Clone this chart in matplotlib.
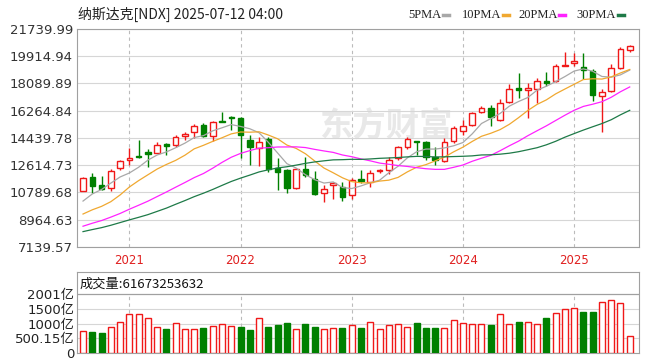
import matplotlib.pyplot as plt
from matplotlib.lines import Line2D
import numpy as np
import pandas as pd

plt.rcParams['font.family'] = ['Noto Sans CJK SC', 'DejaVu Sans']

# monthly candles 2020-08 .. 2025-07
opens = [10911, 11808, 11293, 11072, 12411, 12967, 13235, 13503, 13456, 14059,
         13971, 14594, 14862, 15311, 14594, 15590, 15847, 15760, 14306, 13751,
         14353, 12411, 12297, 11072, 12344, 11675, 10777, 11273, 11179, 10623,
         11674, 11514, 12210, 12297, 13081, 13817, 14259, 14152, 13188, 12920,
         14259, 14929, 15311, 16202, 16429, 15646, 16871, 17769, 17655, 17702,
         18237, 18278, 19282, 19443, 19175, 18947, 17273, 17608, 19108, 20354]
highs = [11830, 12116, 11895, 12344, 12967, 13751, 14306, 13683, 14193, 14085,
         14641, 14822, 15358, 15425, 15579, 16202, 15934, 15867, 14641, 14527,
         14527, 13081, 12344, 12411, 13188, 12250, 11293, 11514, 11514, 11741,
         12297, 12297, 12384, 13148, 13905, 14487, 14259, 14259, 13858, 14420,
         15244, 15646, 16202, 16583, 16650, 17032, 18057, 18773, 18104, 18438,
         18840, 19396, 20220, 20133, 20133, 19061, 17722, 19396, 20514, 20668]
lows = [10860, 10737, 10958, 10911, 12297, 12632, 13081, 12518, 13416, 13302,
        13858, 14306, 14460, 14527, 14260, 15520, 14976, 13081, 12632, 12585,
        12183, 10958, 10737, 11005, 11849, 10623, 10174, 10335, 10241, 10335,
        11407, 11179, 12076, 12029, 12967, 13684, 13302, 12967, 12632, 12853,
        14085, 14641, 15244, 16135, 15244, 15599, 16804, 17099, 15760, 16764,
        17943, 18170, 19282, 19282, 18391, 16938, 14822, 17541, 19061, 20220]
closes = [11782, 11226, 11005, 12230, 12900, 13121, 13148, 13389, 13951, 13925,
          14527, 14688, 15264, 14594, 15532, 15540, 15760, 14641, 13818, 14192,
          12344, 12183, 11072, 12344, 11962, 10690, 11045, 11447, 10469, 11628,
          11561, 12116, 12277, 12967, 13817, 14373, 14152, 13188, 12967, 14193,
          15090, 15244, 16094, 16429, 15827, 16804, 17702, 17655, 17769, 18278,
          18124, 19242, 19349, 19617, 19014, 17320, 17501, 19108, 20401, 20622]
# closes before the first candle (2018-03 .. 2020-07), only feed the averages
pre_closes = [7100, 7150, 7450, 7500, 7700, 8000, 8000, 7400, 7350, 6800,
              7250, 7400, 7650, 8000, 7400, 7850, 7950, 7750, 7800, 8100, 8400, 8700,
              9100, 8400, 7800, 8850, 9500, 10100, 10850]

# volume in 亿, 1 = red bar
volumes = [746, 723, 690, 871, 1063, 1323, 1323, 1199, 871, 825,
           1018, 825, 825, 859, 905, 984, 916, 871, 769, 1199,
           871, 950, 1029, 825, 984, 871, 825, 859, 859, 939,
           859, 1063, 803, 939, 973, 893, 1029, 859, 859, 859,
           1108, 1018, 973, 973, 950, 1312, 973, 1063, 1063, 973,
           1199, 1346, 1481, 1515, 1402, 1402, 1741, 1787, 1685, 588]
vol_red = [1, 0, 0, 1, 1, 1, 1, 1, 1, 0,
           1, 1, 1, 0, 1, 1, 1, 0, 0, 1,
           0, 0, 0, 1, 0, 0, 1, 1, 0, 1,
           0, 1, 1, 1, 1, 1, 0, 0, 0, 1,
           1, 1, 1, 1, 0, 1, 1, 0, 1, 1,
           0, 1, 1, 1, 0, 0, 1, 1, 1, 1]

price_ticks = [7139.57, 8964.63, 10789.68, 12614.73, 14439.78,
               16264.84, 18089.89, 19914.94, 21739.99]
vol_ticks = [0, 500.15, 1000, 1500, 2001]
vol_labels = ['0', '500.15亿', '1000亿', '1500亿', '2001亿']
ma_names = ['5PMA', '10PMA', '20PMA', '30PMA']
ma_lens = [5, 10, 20, 30]

months = pd.period_range('2020-08', '2025-07', freq='M')
x = np.arange(len(months))
o, h, l, c = map(np.array, (opens, highs, lows, closes))
up = c >= o
vr = np.array(vol_red, dtype=bool)
vol = np.array(volumes)
year_pos = x[months.month == 1]
year_lab = [str(y) for y in months.year[months.month == 1]]

red, green = '#f01818', '#008000'
ma_cols = ['#a8a8a8', '#f0a830', '#ff22ff', '#1e7a48']
W, H = 649, 361

fig = plt.figure(figsize=(6.49, 3.61), dpi=100)
ax = fig.add_axes([77 / W, 1 - 247 / H, 562 / W, 218 / H])
axv = fig.add_axes([77 / W, 1 - 353 / H, 562 / W, 81 / H])

# watermark
ax.text(0.55, 0.55, '东方财富', transform=ax.transAxes, fontsize=24, weight='bold',
        color='#e8e8e8', ha='center', va='center', zorder=0)

# moving averages
s = pd.Series(pre_closes + closes, dtype=float)
for n, col in zip(ma_lens, ma_cols):
    ma = s.rolling(n).mean().to_numpy()[-len(closes):]
    ax.plot(x, ma, color=col, lw=0.9, zorder=4)

# candles
ax.vlines(x, l, h, colors=np.where(up, red, green), lw=1, zorder=2)
body = np.maximum(np.abs(c - o), 40)
bot = np.minimum(o, c)
ax.bar(x[up], body[up], bottom=bot[up], width=0.6, facecolor='white',
       edgecolor=red, lw=1, zorder=3)
ax.bar(x[~up], body[~up], bottom=bot[~up], width=0.6, color=green,
       edgecolor=green, lw=1, zorder=3)

ax.set_xlim(-0.65, 60)
ax.set_ylim(price_ticks[0], price_ticks[-1])
ax.set_yticks(price_ticks)
ax.set_yticklabels([f'{v:.2f}' for v in price_ticks], family='DejaVu Sans',
                   fontsize=9.5, color='#333333')
ax.set_xticks(year_pos)
ax.set_xticklabels(year_lab, family='DejaVu Sans', fontsize=8.5, color='#e02020')
ax.tick_params(length=0, pad=3)
ax.tick_params(axis='x', pad=5)
ax.grid(axis='y', color='#d6d6d6', lw=0.8, zorder=1)
for xp in year_pos:
    ax.axvline(xp, color='#bbbbbb', lw=0.8, ls=(0, (3, 3)), zorder=1)
for sp in ax.spines.values():
    sp.set_color('#a0a0a0')

# volume
axv.bar(x[vr], vol[vr], width=0.65, facecolor='white', edgecolor=red, lw=1, zorder=3)
axv.bar(x[~vr], vol[~vr], width=0.65, color=green, edgecolor=green, lw=1, zorder=3)
axv.set_xlim(-0.65, 60)
axv.set_ylim(0, 2748)
axv.set_yticks(vol_ticks)
axv.set_yticklabels(vol_labels, family=['DejaVu Sans', 'Noto Sans CJK SC'],
                    fontsize=9.5, color='#222222')
axv.set_xticks([])
axv.tick_params(length=0, pad=2)
for v in vol_ticks[1:-1]:
    axv.axhline(v, color='#d6d6d6', lw=0.8, zorder=1)
axv.axhline(vol_ticks[-1], color='#a0a0a0', lw=0.9, zorder=1)
for xp in year_pos:
    axv.axvline(xp, ymax=vol_ticks[-1] / 2748, color='#bbbbbb', lw=0.8,
                ls=(0, (3, 3)), zorder=1)
for sp in axv.spines.values():
    sp.set_color('#a0a0a0')
fig.text(80 / W, 1 - 284 / H, '成交量:61673253632', fontsize=9.5,
         va='center', color='#111111')

# title and legend
fig.text(78 / W, 1 - 14 / H, '纳斯达克[NDX] 2025-07-12 04:00', fontsize=10,
         va='center', color='#222222')
leg_x = [408, 462, 518, 576]
dash_x = [443, 503, 559, 618]
for name, col, tx, dx in zip(ma_names, ma_cols, leg_x, dash_x):
    fig.text(tx / W, 1 - 15 / H, name, family='Liberation Serif', fontsize=9,
             va='center', color='#222222')
    fig.add_artist(Line2D([dx / W, (dx + 6) / W], [1 - 15 / H, 1 - 15 / H],
                          color=col, lw=2.5, transform=fig.transFigure))

fig.savefig('out.png', dpi=100)
